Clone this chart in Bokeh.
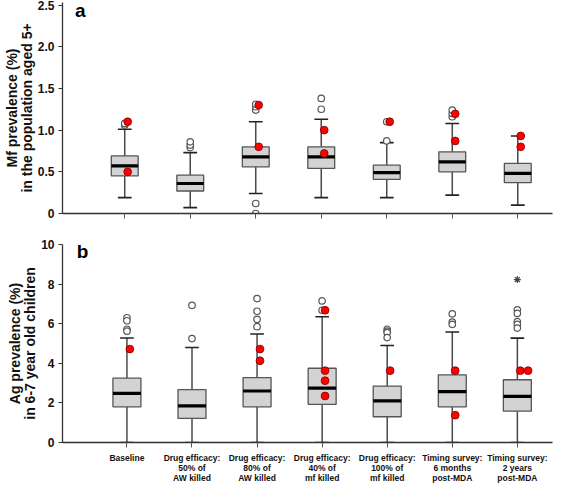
from bokeh.plotting import figure
from bokeh.layouts import column
from bokeh.models import FixedTicker, Label
from bokeh.embed import file_html
from bokeh.resources import INLINE

# ---------------- data ----------------
categories = ["Baseline", "Drug efficacy:\n50% of\nAW killed", "Drug efficacy:\n80% of\nAW killed",
              "Drug efficacy:\n40% of\nmf killed", "Drug efficacy:\n100% of\nmf killed",
              "Timing survey:\n6 months\npost-MDA", "Timing survey:\n2 years\npost-MDA"]

# panel a: Mf prevalence (%)
mf_low = [0.19, 0.07, 0.24, 0.19, 0.19, 0.22, 0.10]
mf_q1 = [0.45, 0.27, 0.56, 0.54, 0.41, 0.50, 0.37]
mf_med = [0.57, 0.36, 0.68, 0.68, 0.49, 0.62, 0.48]
mf_q3 = [0.69, 0.46, 0.80, 0.80, 0.58, 0.74, 0.60]
mf_high = [1.01, 0.73, 1.10, 1.13, 0.85, 1.08, 0.93]
mf_outliers = [[1.06, 1.08], [0.79, 0.82, 0.86], [1.24, 1.28, 1.31, 0.12, 0.0],
               [1.38, 1.25], [1.10, 0.87], [1.16, 1.20, 1.24], []]
mf_observed = [[1.10, 0.50], [], [1.30, 0.80], [1.00, 0.72], [1.10], [1.195, 0.87], [0.93, 0.80]]
mf_ticks = [0, 0.5, 1.0, 1.5, 2.0, 2.5]
mf_tick_labels = ["0", "0.5", "1.0", "1.5", "2.0", "2.5"]

# panel b: Ag prevalence (%)
ag_low = [0, 0, 0, 0, 0, 0, 0]
ag_q1 = [1.80, 1.22, 1.80, 1.93, 1.30, 1.80, 1.58]
ag_med = [2.48, 1.85, 2.60, 2.75, 2.10, 2.57, 2.33]
ag_q3 = [3.25, 2.67, 3.28, 3.75, 2.85, 3.42, 3.17]
ag_high = [5.28, 4.80, 5.48, 6.35, 4.90, 5.58, 5.27]
ag_outliers = [[6.30, 6.15, 5.72, 5.62], [6.93, 5.25], [7.27, 6.63, 6.22, 5.85],
               [7.15, 6.68], [5.72, 5.63, 5.55, 5.30], [6.50, 6.08, 5.97],
               [6.70, 6.52, 6.10, 5.97, 5.78]]
ag_extremes = [[], [], [], [], [], [], [8.23]]
ag_observed = [[4.72], [], [4.72, 4.13], [6.68, 3.63, 3.12, 2.35], [3.63], [3.63, 1.38], [3.63, 3.63]]
ag_ticks = [0, 2, 4, 6, 8, 10]
ag_tick_labels = ["0", "2", "4", "6", "8", "10"]

FONT = "Liberation Sans"
BOX_FILL = "#d3d3d3"
LINE = "#4a4a4a"


def make_panel(width, height, border, x_range, y_range, low, q1, med, q3, high,
               outliers, observed, extremes, ticks, tick_labels, title_lines, letter,
               letter_pos, show_cat_labels, box_w, cap_w):
    p = figure(width=width, height=height, output_backend="svg", toolbar_location=None,
               x_range=x_range, y_range=y_range,
               min_border_left=border[0], min_border_right=border[1],
               min_border_top=border[2], min_border_bottom=border[3])
    p.outline_line_color = None
    p.xgrid.visible = False
    p.ygrid.visible = False
    p.background_fill_color = "white"
    p.border_fill_color = "white"

    xs = list(range(1, len(categories) + 1))
    # whiskers
    p.segment(x0=xs, y0=low, x1=xs, y1=q1, line_color=LINE, line_width=1.5)
    p.segment(x0=xs, y0=q3, x1=xs, y1=high, line_color=LINE, line_width=1.5)
    # caps
    p.segment(x0=[x - cap_w / 2 for x in xs], y0=high, x1=[x + cap_w / 2 for x in xs], y1=high,
              line_color="#222222", line_width=1.6)
    p.segment(x0=[x - cap_w / 2 for x in xs], y0=low, x1=[x + cap_w / 2 for x in xs], y1=low,
              line_color="#222222", line_width=1.6)
    # boxes
    p.vbar(x=xs, width=box_w, bottom=q1, top=q3, fill_color=BOX_FILL,
           line_color="#555555", line_width=1.3)
    # medians
    p.segment(x0=[x - box_w / 2 for x in xs], y0=med, x1=[x + box_w / 2 for x in xs], y1=med,
              line_color="black", line_width=3.2)

    # outliers
    ox, oy = [], []
    for i, vals in enumerate(outliers):
        for v in vals:
            ox.append(xs[i])
            oy.append(v)
    p.scatter(ox, oy, marker="circle", size=6.5, fill_color="white", line_color="#555555",
              line_width=1.2)
    ex, ey = [], []
    for i, vals in enumerate(extremes):
        for v in vals:
            ex.append(xs[i])
            ey.append(v)
    if ex:
        p.scatter(ex, ey, marker="asterisk", size=7, line_color="#444444", line_width=1.2)

    # observed (red)
    rx, ry = [], []
    for i, vals in enumerate(observed):
        seen = {}
        for v in vals:
            k = seen.get(v, 0)
            seen[v] = k + 1
            rx.append(xs[i] + 0.045 + 0.12 * k)
            ry.append(v)
    p.scatter(rx, ry, marker="circle", size=7.8, fill_color="#ff0000", line_color="#7a0000",
              line_width=0.8)

    # y axis
    ya = p.yaxis[0]
    ya.ticker = FixedTicker(ticks=ticks)
    ya.major_label_overrides = {t: l for t, l in zip(ticks, tick_labels)}
    ya.minor_tick_line_color = None
    ya.major_tick_in = 0
    ya.major_tick_out = 4
    ya.major_label_standoff = 4
    ya.axis_line_color = "#333333"
    ya.axis_line_width = 1.3
    ya.major_tick_line_color = "#333333"
    ya.major_label_text_font = FONT
    ya.major_label_text_font_style = "bold"
    ya.major_label_text_font_size = "12px"
    ya.major_label_text_color = "#111111"
    ya.axis_label = title_lines
    ya.axis_label_text_font = FONT
    ya.axis_label_text_font_style = "bold"
    ya.axis_label_text_font_size = "14px"
    ya.axis_label_text_line_height = 0.95
    ya.axis_label_text_color = "#111111"
    ya.axis_label_standoff = 0

    # x axis
    xa = p.xaxis[0]
    xa.ticker = FixedTicker(ticks=xs)
    xa.minor_tick_line_color = None
    xa.axis_line_color = "#333333"
    xa.axis_line_width = 1.3
    xa.major_tick_in = 0
    xa.major_tick_out = 5
    xa.major_tick_line_color = "#555555"
    if show_cat_labels:
        xa.major_label_overrides = {x: c for x, c in zip(xs, categories)}
        xa.major_label_standoff = 5
        xa.major_label_text_font = FONT
        xa.major_label_text_font_style = "bold"
        xa.major_label_text_font_size = "8.5px"
        xa.major_label_text_color = "#111111"
        xa.major_label_text_line_height = 1.0
    else:
        xa.major_label_overrides = {x: "" for x in xs}
        xa.major_label_text_color = None
        xa.major_label_standoff = 0

    p.add_layout(Label(x=letter_pos[0], y=letter_pos[1], text=letter, text_font=FONT,
                       text_font_style="bold", text_font_size="19px", text_color="black",
                       text_baseline="middle", text_align="center"))
    return p


pa = make_panel(559, 228, (56, 7, 2, 15), (0.05, 7.53), (0, 2.53),
                mf_low, mf_q1, mf_med, mf_q3, mf_high, mf_outliers, mf_observed, [],
                mf_ticks, mf_tick_labels, "Mf prevalence (%)\nin the population aged 5+",
                "a", (0.32, 2.44), False, 0.41, 0.21)
pb = make_panel(559, 257, (55, 0, 16, 41), (0.01, 7.54), (0, 10),
                ag_low, ag_q1, ag_med, ag_q3, ag_high, ag_outliers, ag_observed, ag_extremes,
                ag_ticks, ag_tick_labels, "Ag prevalence (%)\nin 6-7 year old children",
                "b", (0.32, 9.63), True, 0.43, 0.21)

layout = column(pa, pb, spacing=0)
open("out.html", "w").write(file_html(layout, INLINE))
